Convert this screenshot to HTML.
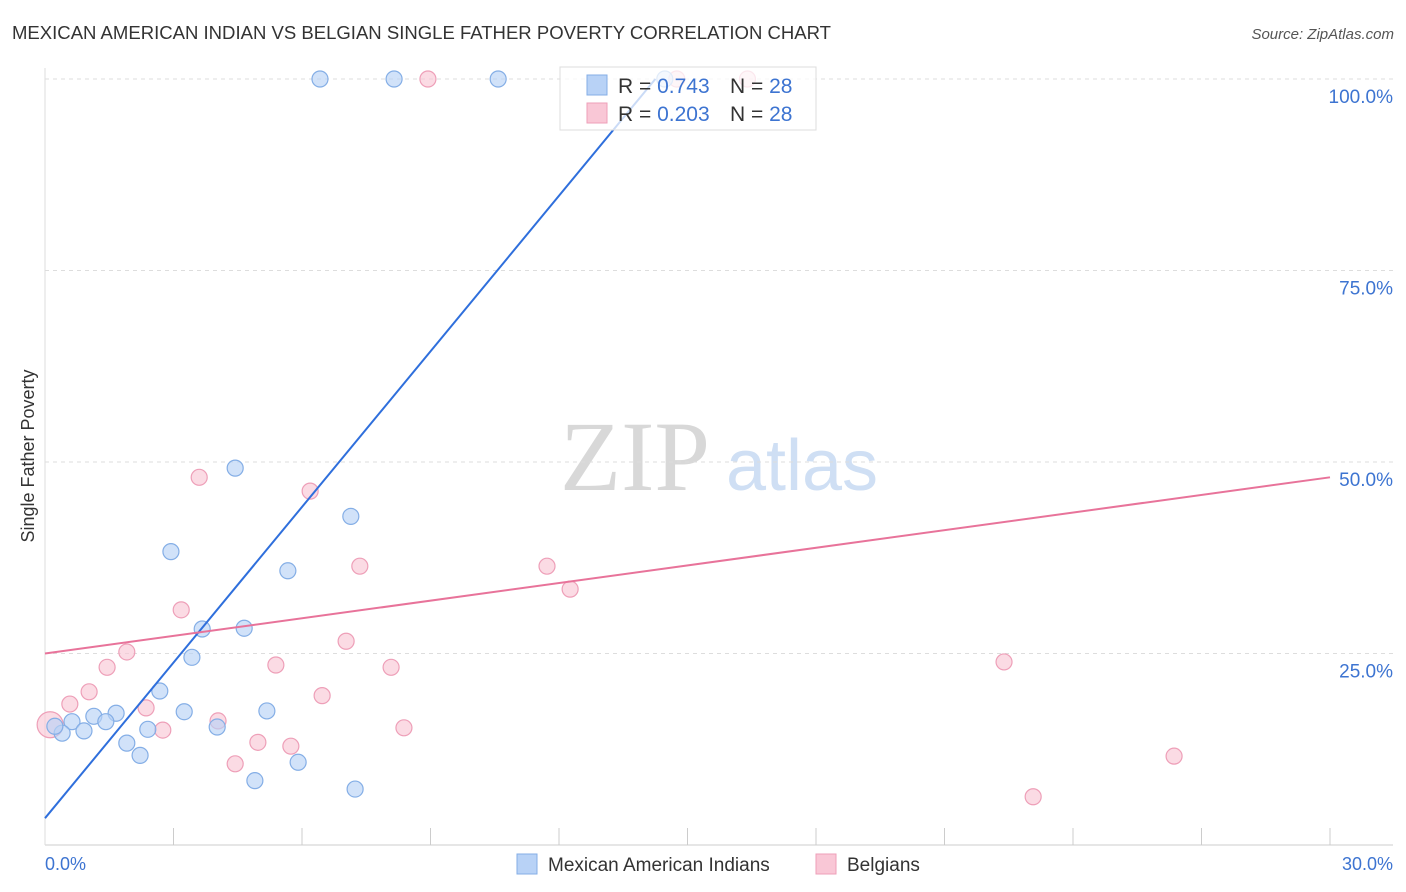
<!DOCTYPE html>
<html><head><meta charset="utf-8">
<style>
body{margin:0;background:#fff;font-family:"Liberation Sans",sans-serif;}
#wrap{position:relative;width:1406px;height:892px;overflow:hidden;}
</style></head>
<body><div id="wrap">
<svg id="svg" width="1406" height="892" xmlns="http://www.w3.org/2000/svg">
<text x="12" y="39" font-size="18" fill="#333" textLength="819" lengthAdjust="spacingAndGlyphs">MEXICAN AMERICAN INDIAN VS BELGIAN SINGLE FATHER POVERTY CORRELATION CHART</text>
<text x="1394" y="39" font-size="15" fill="#555" text-anchor="end" font-style="italic">Source: ZipAtlas.com</text>
<text x="34" y="456" font-size="18" fill="#333" text-anchor="middle" transform="rotate(-90 34 456)">Single Father Poverty</text>
<g><text x="635" y="490" font-size="100" fill="#d8d8d8" font-family="Liberation Serif,serif" text-anchor="middle">ZIP</text><text x="802" y="490" font-size="72" fill="#cfdff4" text-anchor="middle">atlas</text></g>
<g id="grid"></g><g id="marks"></g><g id="lines"></g>
<g>
<rect x="560" y="67" width="256" height="63" fill="#fff" fill-opacity="0.75" stroke="#ddd"/>
<rect x="587" y="75" width="20" height="20" fill="#b8d2f6" stroke="#84aee6"/>
<rect x="587" y="103" width="20" height="20" fill="#f9c7d6" stroke="#ee9fb8"/>
<text x="618" y="93" font-size="21" fill="#333">R = <tspan fill="#3d74d1">0.743</tspan></text>
<text x="730" y="93" font-size="21" fill="#333">N = <tspan fill="#3d74d1">28</tspan></text>
<text x="618" y="121" font-size="21" fill="#333">R = <tspan fill="#3d74d1">0.203</tspan></text>
<text x="730" y="121" font-size="21" fill="#333">N = <tspan fill="#3d74d1">28</tspan></text>
</g>
<text x="45" y="870" font-size="18" fill="#3d74d1">0.0%</text>
<text x="1393" y="870" font-size="18" fill="#3d74d1" text-anchor="end">30.0%</text>
<g>
<rect x="517" y="854" width="20" height="20" fill="#b8d2f6" stroke="#84aee6"/>
<text x="548" y="871" font-size="19" fill="#333">Mexican American Indians</text>
<rect x="816" y="854" width="20" height="20" fill="#f9c7d6" stroke="#ee9fb8"/>
<text x="847" y="871" font-size="19" fill="#333">Belgians</text>
</g>
</svg>
<script>
const yTicks=[25,50,75,100];
const blueX=[6.42,8.15,10.58,14.47,4.44,7.14,2.94,5.67,3.67,4.65,3.43,2.68,3.25,5.18,1.14,1.66,0.63,1.42,0.91,0.40,2.40,4.02,1.91,2.22,5.91,4.90,7.24,0.23];
const blueY=[100,100,100,100,49.2,42.9,38.3,35.8,28.2,28.3,24.5,20.1,17.4,17.5,16.8,17.2,16.1,16.1,14.9,14.6,15.1,15.4,13.3,11.7,10.8,8.4,7.3,15.5];
const pinkX=[8.94,14.75,16.4,3.60,6.19,7.35,11.72,12.26,3.18,7.03,1.91,1.45,5.39,8.08,22.39,1.03,6.47,0.58,2.36,4.04,2.75,8.38,4.97,5.74,4.44,26.36,23.07,0.12];
const pinkY=[100,100,100,48.0,46.2,36.4,36.4,33.4,30.7,26.6,25.2,23.2,23.5,23.2,23.9,20.0,19.5,18.4,17.9,16.2,15.0,15.3,13.4,12.9,10.6,11.6,6.3,15.7];
const blueLine=[3.5,100];const blueLineX=[0,14.25];
const pinkLine=[25,48.0];const pinkLineX=[0,30];
const NS="http://www.w3.org/2000/svg";
const xs=v=>45+v/30*1285, ys=v=>845-v/100*766;
function mk(t,a,p){const e=document.createElementNS(NS,t);for(const k in a)e.setAttribute(k,a[k]);document.getElementById(p).appendChild(e);return e;}
yTicks.forEach(t=>{
 const l=mk('line',{x1:45,x2:1393,y1:ys(t),y2:ys(t),stroke:'#ddd','stroke-dasharray':'4 4'},'grid');
 
 
 const tx=mk('text',{x:1393,y:ys(t)+24,'font-size':19,fill:'#3d74d1','text-anchor':'end'},'grid');
 tx.textContent=t.toFixed(1)+'%';
 
 
});
const ax=mk('line',{x1:45,x2:1393,y1:845,y2:845,stroke:'#ccc'},'grid');


const ay=mk('line',{x1:45,x2:45,y1:68,y2:845,stroke:'#ddd'},'grid');


for(let i=1;i<=10;i++){const x=45+i*128.5;const t=mk('line',{x1:x,x2:x,y1:828,y2:845,stroke:'#ccc'},'grid');
 
 }
function pts(X,Y,f,s,name){X.forEach((x,i)=>{const r=(x<0.2)?13:8;
 const c=mk('circle',{cx:xs(x),cy:ys(Y[i]),r:r,fill:f,'fill-opacity':0.65,stroke:s,'stroke-width':1.2},'marks');
 
 });}
pts(pinkX,pinkY,'#f9c7d6','#ee9fb8','belgian-point');
pts(blueX,blueY,'#b8d2f6','#84aee6','mexican-american-indian-point');
const bl=mk('line',{x1:xs(blueLineX[0]),y1:ys(blueLine[0]),x2:xs(blueLineX[1]),y2:ys(blueLine[1]),stroke:'#2f6fdc','stroke-width':2},'lines');


const pl=mk('line',{x1:xs(pinkLineX[0]),y1:ys(pinkLine[0]),x2:xs(pinkLineX[1]),y2:ys(pinkLine[1]),stroke:'#e8739a','stroke-width':2},'lines');


</script>
</div></body></html>
